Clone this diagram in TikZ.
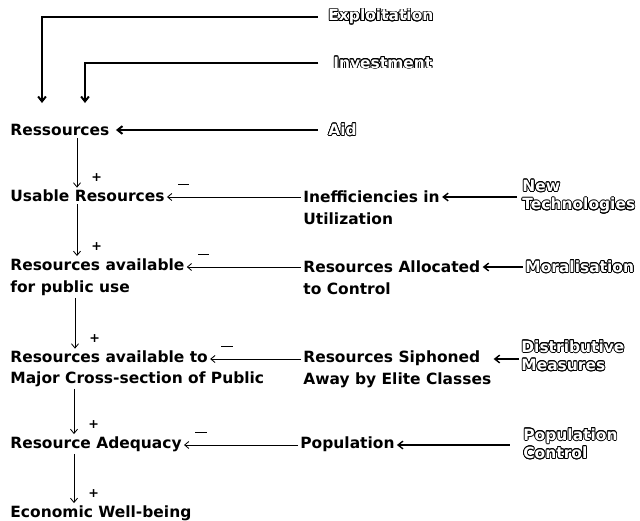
\documentclass[tikz,border=0pt]{standalone}
\usepackage{fontspec}
\setmainfont{DejaVu Sans}
\usepackage[copies]{contour}
\contourlength{0.55pt}
\contournumber{16}
\usetikzlibrary{arrows.meta}

\newcommand{\ol}[1]{\contour{black}{#1}}

\begin{document}
\begin{tikzpicture}[
  x=0.025cm, y=-0.025cm,
  t/.style={anchor=west,align=left,inner sep=1.5pt,font=\fontsize{11}{15.8}\selectfont\bfseries},
  o/.style={anchor=west,align=left,inner sep=1.5pt,text=white,font=\fontsize{11}{13}\selectfont\bfseries},
  a/.style={-{Straight Barb[length=3pt,width=5pt]},line width=0.6pt},
  b/.style={-{Straight Barb[length=3.5pt,width=5.5pt]},line width=1pt},
  ta/.style={-{Straight Barb[length=3.5pt,width=5.5pt]},line width=1.4pt},
  m/.style={pos=1,above=8pt,xshift=12pt,inner sep=0pt},
  p/.style={pos=1,xshift=14pt,yshift=7pt,inner sep=0pt,font=\bfseries\small},
]
  \useasboundingbox (0,0) rectangle (640,521);

  % left column
  \node[t] (res)  at (8,130) {Ressources};
  \node[t] (use)  at (8,196) {Usable Resources};
  \node[t] (pub)  at (8,277) {Resources available\\for public use};
  \node[t] (maj)  at (8,357) {Resources available to};
  \node[t] (majb) at (8,379) {Major Cross-section of Public};
  \node[t] (adq)  at (8,444) {Resource Adequacy};
  \node[t] (ewb)  at (8,513) {Economic Well-being};

  % middle column
  \node[t] (ineff) at (301,208) {Inefficiencies in\\Utilization};
  \node[t] (alloc) at (301,278) {Resources Allocated\\to Control};
  \node[t] (siph)  at (301,369) {Resources Siphoned\\Away by Elite Classes};
  \node[t] (popn)  at (298,444) {Population};

  % outside influences
  \node[o] (expl)  at (326,17)  {\ol{Exploitation}};
  \node[o] (inv)   at (331,63)  {\ol{Investment}};
  \node[o] (aid)   at (326,130) {\ol{Aid}};
  \node[o] (tech)  at (520,197) {\ol{New}\\\ol{Technologies}};
  \node[o] (moral) at (523,267) {\ol{Moralisation}};
  \node[o] (distr) at (519,356) {\ol{Distributive}\\\ol{Measures}};
  \node[o] (pctl)  at (521,444) {\ol{Population}\\\ol{Control}};

  \coordinate (r2) at (0,197);
  \coordinate (r3) at (0,267);
  \coordinate (r4) at (0,359);
  \coordinate (r5) at (0,445);
  \coordinate (v1) at (77,0);
  \coordinate (v2) at (75,0);
  \coordinate (v3) at (74,0);
  \coordinate (e1) at (42,103);
  \coordinate (e2) at (85,103);

  \draw[ta,shorten <=6pt] (expl.west) -| (e1);
  \draw[ta,shorten <=9pt] (inv.west) -| (e2);
  \draw[ta,shorten <=6pt,shorten >=3pt] (aid.west) -- (res.east);

  \draw[a] (res.south -| v1) -- node[p]{+} (use.north -| v1);
  \draw[a] (use.south -| v1) -- node[p]{+} (pub.north -| v1);
  \draw[a] (pub.south -| v2) -- node[p]{+} (maj.north -| v2);
  \draw[a] (majb.south -| v3) -- node[p]{+} (adq.north -| v3);
  \draw[a] (adq.south -| v3) -- node[p]{+} (ewb.north -| v3);

  \draw[a] (ineff.west |- r2) -- node[m]{\rule{8pt}{1.2pt}} (use.east |- r2);
  \draw[a] (alloc.west |- r3) -- node[m]{\rule{8pt}{1.2pt}} (pub.east |- r3);
  \draw[a] (siph.west |- r4) -- node[m]{\rule{8pt}{1.2pt}} (maj.east |- r4);
  \draw[a] (popn.west |- r5) -- node[m]{\rule{8pt}{1.2pt}} (adq.east |- r5);

  \draw[b,shorten <=2pt] (tech.west |- r2) -- (ineff.east |- r2);
  \draw[b] (moral.west) -- (alloc.east |- r3);
  \draw[b] (distr.west |- r4) -- (siph.east |- r4);
  \draw[b,shorten <=8pt] (pctl.west |- r5) -- (popn.east |- r5);
\end{tikzpicture}
\end{document}
